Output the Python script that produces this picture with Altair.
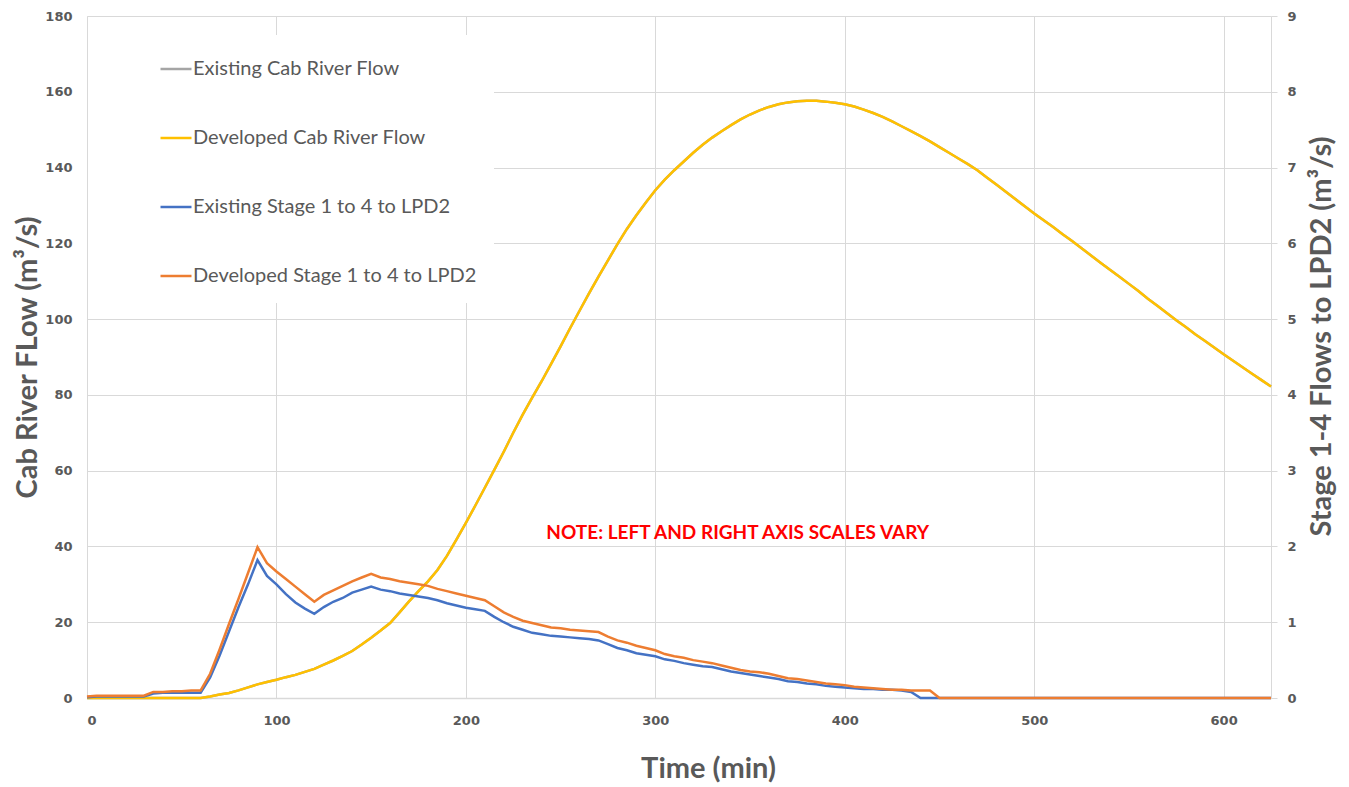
import altair as alt
import pandas as pd

TIME = list(range(0, 630, 5))  # minutes, 0..625

EXISTING_CAB = [
    0, 0, 0, 0, 0, 0, 0, 0, 0, 0, 0, 0, 0,
    0.4, 0.9, 1.3, 2.0, 2.8, 3.6, 4.2, 4.8, 5.5, 6.1, 6.9, 7.7, 8.8, 9.9, 11.1, 12.4, 14.1, 15.9,
    17.8, 19.8, 22.6, 25.5, 28.2, 30.8, 33.8, 37.5, 41.8, 46.2, 50.8, 55.5, 60.2, 65.0, 70.0, 74.8,
    79.3, 83.6, 88.2, 92.8, 97.6, 102.2, 106.8, 111.2, 115.5, 119.8, 123.8, 127.4, 130.8, 134.0,
    136.8, 139.3, 141.6, 143.9, 146.0, 147.9, 149.6, 151.2, 152.7, 154.0, 155.1, 156.0, 156.7,
    157.2, 157.5, 157.6, 157.6, 157.4, 157.1, 156.7, 156.1, 155.3, 154.4, 153.4, 152.2, 150.9,
    149.6, 148.3, 146.9, 145.4, 143.9, 142.4, 140.9, 139.3, 137.4, 135.5, 133.6, 131.7, 129.8,
    127.9, 126.1, 124.3, 122.4, 120.6, 118.7, 116.8, 114.9, 113.0, 111.2, 109.3, 107.4, 105.4,
    103.5, 101.6, 99.7, 97.9, 96.0, 94.3, 92.5, 90.7, 89.0, 87.3, 85.6, 83.9, 82.2,
]

DEVELOPED_CAB = [
    0, 0, 0, 0, 0, 0, 0, 0, 0, 0, 0, 0, 0,
    0.4, 0.9, 1.3, 2.0, 2.8, 3.6, 4.2, 4.8, 5.5, 6.1, 6.9, 7.7, 8.8, 9.9, 11.1, 12.4, 14.1, 15.9,
    17.8, 19.8, 22.6, 25.5, 28.2, 30.8, 33.8, 37.5, 41.8, 46.2, 50.8, 55.5, 60.2, 65.0, 70.0, 74.8,
    79.3, 83.6, 88.2, 92.8, 97.6, 102.2, 106.8, 111.2, 115.5, 119.8, 123.8, 127.4, 130.8, 134.0,
    136.8, 139.3, 141.6, 143.9, 146.0, 147.9, 149.6, 151.2, 152.7, 154.0, 155.1, 156.0, 156.7,
    157.2, 157.5, 157.6, 157.6, 157.4, 157.1, 156.7, 156.1, 155.3, 154.4, 153.4, 152.2, 150.9,
    149.6, 148.3, 146.9, 145.4, 143.9, 142.4, 140.9, 139.3, 137.4, 135.5, 133.6, 131.7, 129.8,
    127.9, 126.1, 124.3, 122.4, 120.6, 118.7, 116.8, 114.9, 113.0, 111.2, 109.3, 107.4, 105.4,
    103.5, 101.6, 99.7, 97.9, 96.0, 94.3, 92.5, 90.7, 89.0, 87.3, 85.6, 83.9, 82.2,
]

EXISTING_STAGE = [
    0.01, 0.02, 0.02, 0.02, 0.02, 0.02, 0.02, 0.06, 0.07, 0.07, 0.07, 0.07, 0.07,
    0.27, 0.56, 0.88, 1.20, 1.50, 1.82, 1.61, 1.50, 1.37, 1.26, 1.18, 1.11, 1.20, 1.27, 1.32,
    1.39, 1.43, 1.47, 1.43, 1.41, 1.38, 1.36, 1.34, 1.32, 1.29, 1.25, 1.22, 1.19, 1.17, 1.15,
    1.07, 1.00, 0.94, 0.90, 0.86, 0.84, 0.82, 0.81, 0.80, 0.79, 0.78, 0.76, 0.71, 0.66, 0.63,
    0.59, 0.57, 0.55, 0.51, 0.49, 0.46, 0.44, 0.42, 0.41, 0.38, 0.35, 0.33, 0.31, 0.29, 0.27,
    0.25, 0.22, 0.21, 0.19, 0.18, 0.16, 0.15, 0.14, 0.13, 0.12, 0.12, 0.11, 0.11, 0.10, 0.08,
] + [0] * 38

DEVELOPED_STAGE = [
    0.02, 0.03, 0.03, 0.03, 0.03, 0.03, 0.03, 0.08, 0.08, 0.09, 0.09, 0.10, 0.10,
    0.32, 0.64, 0.98, 1.31, 1.65, 1.99, 1.78, 1.67, 1.57, 1.47, 1.37, 1.27, 1.36, 1.42, 1.48,
    1.54, 1.59, 1.64, 1.59, 1.57, 1.54, 1.52, 1.50, 1.48, 1.44, 1.41, 1.38, 1.35, 1.32, 1.29,
    1.21, 1.13, 1.07, 1.02, 0.99, 0.96, 0.93, 0.92, 0.90, 0.89, 0.88, 0.87, 0.81, 0.76, 0.73,
    0.69, 0.66, 0.63, 0.58, 0.55, 0.53, 0.50, 0.48, 0.46, 0.43, 0.40, 0.37, 0.35, 0.34, 0.32,
    0.29, 0.26, 0.25, 0.23, 0.21, 0.19, 0.18, 0.17, 0.15, 0.14, 0.13, 0.12, 0.11, 0.11, 0.10,
    0.10, 0.10,
] + [0] * 36

SERIES = [
    "Existing Cab River Flow",
    "Developed Cab River Flow",
    "Existing Stage 1 to 4 to LPD2",
    "Developed Stage 1 to 4 to LPD2",
]
COLORS = ["#a5a5a5", "#ffc000", "#4472c4", "#ed7d31"]

NOTE_TEXT = ["NOTE: LEFT AND RIGHT AXIS SCALES VARY"]
NOTE_TIME = [343.5]
NOTE_FLOW = [43.5]

X_TICKS = [0, 100, 200, 300, 400, 500, 600]
LEFT_TICKS = [0, 20, 40, 60, 80, 100, 120, 140, 160, 180]
RIGHT_TICKS = [0, 1, 2, 3, 4, 5, 6, 7, 8, 9]

frames = []
for name, vals in zip(SERIES, [EXISTING_CAB, DEVELOPED_CAB, EXISTING_STAGE, DEVELOPED_STAGE]):
    assert len(vals) == len(TIME), (name, len(vals))
    frames.append(pd.DataFrame({"time": TIME, "value": vals, "series": name}))
df = pd.concat(frames, ignore_index=True)
note_df = pd.DataFrame({"time": NOTE_TIME, "value": NOTE_FLOW, "label": NOTE_TEXT})

GREY = "#595959"
GRID = "#d9d9d9"
TITLE_SIZE = 29

x_enc = alt.X(
    "time:Q",
    scale=alt.Scale(domain=[0, 625], nice=False),
    axis=alt.Axis(
        values=X_TICKS, title="Time (min)", titleFont="Lato", titleFontSize=TITLE_SIZE,
        titleFontWeight="bold", titleColor=GREY, titlePadding=27, titleX=621,
        labelFont="DejaVu Sans", labelFontSize=13, labelFontWeight="bold", labelColor=GREY,
        labelPadding=16, ticks=False, grid=True, gridColor=GRID, domainColor=GRID, domainWidth=1.5,
    ),
)

y_left = alt.Y(
    "value:Q",
    scale=alt.Scale(domain=[0, 180], nice=False),
    axis=alt.Axis(
        values=LEFT_TICKS, title="Cab River FLow (m³/s)", titleFont="Lato",
        titleFontSize=TITLE_SIZE, titleFontWeight="bold", titleColor=GREY, titlePadding=2,
        labelFont="DejaVu Sans", labelFontSize=13, labelFontWeight="bold", labelColor=GREY,
        labelPadding=15, ticks=False, grid=True, gridColor=GRID, domainColor=GRID,
    ),
)

y_right = alt.Y(
    "value:Q",
    scale=alt.Scale(domain=[0, 9], nice=False),
    axis=alt.Axis(
        orient="right", values=RIGHT_TICKS, title="Stage 1-4 Flows to LPD2 (m³/s)",
        titleFont="Lato", titleFontSize=TITLE_SIZE, titleFontWeight="bold", titleColor=GREY,
        titleAngle=270, titlePadding=40, titleY=320,
        labelFont="DejaVu Sans", labelFontSize=13, labelFontWeight="bold", labelColor=GREY,
        labelPadding=10, ticks=True, tickSize=6, tickColor=GRID, grid=False, domainColor=GRID,
    ),
)

color_enc = alt.Color(
    "series:N",
    scale=alt.Scale(domain=SERIES, range=COLORS),
    legend=alt.Legend(
        title=None, orient="none", legendX=1, legendY=19, fillColor="white", padding=17,
        symbolType="stroke", symbolSize=961, symbolStrokeWidth=2.5, symbolOffset=54,
        labelFont="Lato", labelFontSize=20, labelColor=GREY, rowPadding=42, labelOffset=0,
        labelLimit=400,
    ),
)

base = alt.Chart(df)


def line(name, y):
    return (
        base.transform_filter(alt.datum.series == name)
        .mark_line(strokeWidth=2.5)
        .encode(x=x_enc, y=y, color=color_enc)
    )


note = (
    alt.Chart(note_df)
    .mark_text(font="Lato", fontSize=19, fontWeight="bold", color="#ff0000")
    .encode(x=x_enc, y=y_left, text="label:N")
)

left = alt.layer(line(SERIES[0], y_left), line(SERIES[1], y_left), note)
right = alt.layer(line(SERIES[2], y_right), line(SERIES[3], y_right))

chart = (
    alt.layer(left, right)
    .resolve_scale(y="independent")
    .properties(
        width=1184, height=682,
        autosize=alt.AutoSizeParams(type="none"),
        padding={"left": 79, "top": 8, "right": 70, "bottom": 88},
        background="white",
    )
    .configure_view(stroke=None)
)

chart.save("out.html", embed_options={"renderer": "svg", "actions": False})
